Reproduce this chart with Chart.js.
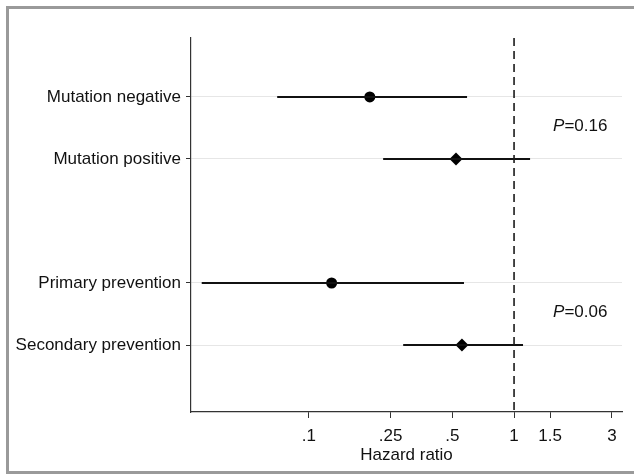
<!DOCTYPE html>
<html>
<head>
<meta charset="utf-8">
<script src="https://cdn.jsdelivr.net/npm/chart.js@4/dist/chart.umd.min.js"></script>
<style>
  body { margin: 0; background: #fff; }
  #wrap { position: relative; width: 634px; height: 476px; overflow: hidden; }
  #frame { position: absolute; left: 6px; top: 6px; width: 650px; height: 468px;
           box-sizing: border-box; border: 3px solid #9a9a9a; }
  #c { position: absolute; left: 0; top: 0; }
</style>
</head>
<body>
<div id="wrap">
  <div id="frame"></div>
  <canvas id="c" width="634" height="476"></canvas>
</div>
<script>
(function(){

  // Linhas do forest plot (posicao 3 fica vazia de proposito)
  var rowLabels = ['Mutation negative', 'Mutation positive', 'Primary prevention', 'Secondary prevention'];
  var rowPos = [1, 2, 4, 5];
  var hazard = [0.198, 0.521, 0.129, 0.557];
  var ciLow = [0.070, 0.230, 0.030, 0.288];
  var ciHigh = [0.590, 1.197, 0.570, 1.106];
  var markers = ['circle', 'rectRot', 'circle', 'rectRot'];

  var xTicks = [0.1, 0.25, 0.5, 1, 1.5, 3];
  var xTickLabels = ['.1', '.25', '.5', '1', '1.5', '3'];

  // Valores P entre os pares
  var pTexts = ['0.16', '0.06'];
  var pPos = [1.48, 4.48];

  var font = '"Liberation Sans", Arial, Helvetica, sans-serif';
  var fontSize = 17;
  var yMin = 0.05, yMax = 6.08;

  var datasets = [];

  // Linha de referencia em HR = 1
  datasets.push({
    type: 'line',
    data: [{x: 1, y: yMin}, {x: 1, y: yMax}],
    borderColor: '#1a1a1a',
    borderWidth: 1.6,
    borderDash: [8, 5],
    pointRadius: 0
  });

  // Intervalos de confianca
  for (var i = 0; i < rowLabels.length; i++) {
    datasets.push({
      type: 'line',
      data: [{x: ciLow[i], y: rowPos[i]}, {x: ciHigh[i], y: rowPos[i]}],
      borderColor: '#111',
      borderWidth: 2,
      pointRadius: 0
    });
  }

  // Estimativas pontuais
  datasets.push({
    type: 'scatter',
    data: rowPos.map(function(p, i){ return {x: hazard[i], y: p}; }),
    pointStyle: markers,
    pointRadius: markers.map(function(m){ return m === 'circle' ? 5.5 : 6.5; }),
    backgroundColor: '#000',
    borderColor: '#000',
    borderWidth: 0
  });

  var pLabels = {
    id: 'pLabels',
    afterDatasetsDraw: function(chart){
      var ctx = chart.ctx;
      var xs = chart.scales.x, ys = chart.scales.y;
      ctx.save();
      ctx.fillStyle = '#111';
      ctx.textBaseline = 'middle';
      ctx.textAlign = 'left';
      for (var i = 0; i < pTexts.length; i++) {
        var px = xs.getPixelForValue(1.55);
        var py = ys.getPixelForValue(pPos[i]);
        ctx.font = 'italic ' + fontSize + 'px ' + font;
        ctx.fillText('P', px, py);
        var w = ctx.measureText('P').width;
        ctx.font = fontSize + 'px ' + font;
        ctx.fillText('=' + pTexts[i], px + w, py);
      }
      ctx.restore();
    }
  };

  new Chart(document.getElementById('c'), {
    type: 'scatter',
    data: { datasets: datasets },
    options: {
      responsive: false,
      animation: false,
      layout: { padding: { top: 38, right: 12, left: 0, bottom: 0 } },
      plugins: { legend: { display: false }, tooltip: { enabled: false } },
      scales: {
        x: {
          type: 'logarithmic',
          min: 0.0266,
          max: 3.36,
          afterBuildTicks: function(scale){
            scale.ticks = xTicks.map(function(v){ return {value: v}; });
          },
          afterFit: function(scale){ scale.height = 64; },
          ticks: {
            color: '#111',
            font: { family: font, size: fontSize },
            padding: 8,
            maxRotation: 0,
            autoSkip: false,
            callback: function(v){
              var k = xTicks.indexOf(v);
              return k >= 0 ? xTickLabels[k] : '';
            }
          },
          grid: { drawOnChartArea: false, drawTicks: true, tickLength: 6, tickColor: '#333' },
          border: { display: true, color: '#333', width: 1.2 },
          title: {
            display: true,
            text: 'Hazard ratio',
            color: '#111',
            font: { family: font, size: fontSize },
            padding: { top: 0, bottom: 10 }
          }
        },
        y: {
          type: 'linear',
          reverse: true,
          min: yMin,
          max: yMax,
          afterBuildTicks: function(scale){
            scale.ticks = rowPos.map(function(v){ return {value: v}; });
          },
          afterFit: function(scale){ scale.width = 191; },
          ticks: {
            color: '#111',
            font: { family: font, size: fontSize },
            padding: 5,
            callback: function(v){
              var k = rowPos.indexOf(v);
              return k >= 0 ? rowLabels[k] : '';
            }
          },
          grid: { color: '#e6e6e6', lineWidth: 1, drawTicks: true, tickLength: 5, tickColor: '#333' },
          border: { display: true, color: '#333', width: 1.2 }
        }
      }
    },
    plugins: [pLabels]
  });

})();
</script>
</body>
</html>
